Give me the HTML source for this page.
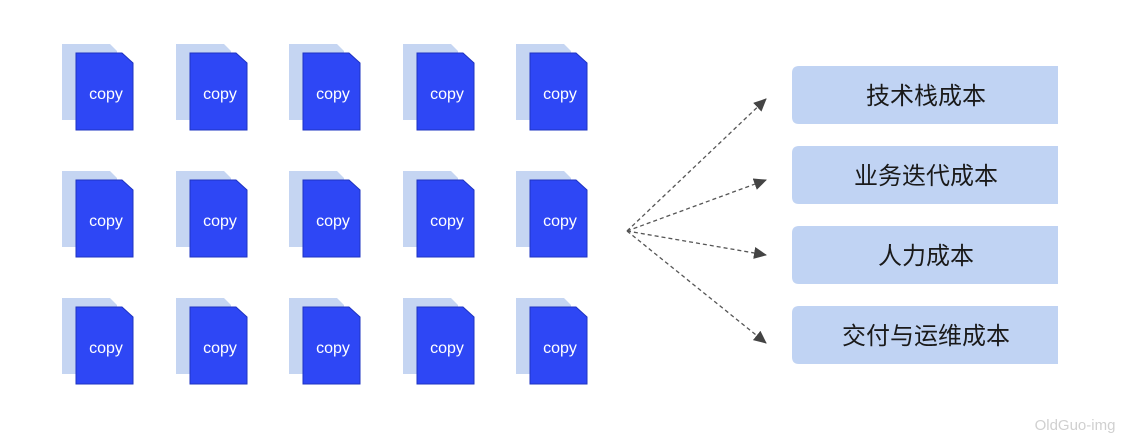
<!DOCTYPE html>
<html><head><meta charset="utf-8"><style>
html,body{margin:0;padding:0;background:#fff;}
svg{display:block;}
.c{font-family:"Liberation Sans",sans-serif;font-size:16px;fill:#fff;text-anchor:middle;}
.t{font-family:"Liberation Sans","Noto Sans CJK SC",sans-serif;font-size:24px;fill:#1a1a1a;text-anchor:middle;}
</style></head><body>
<svg width="1130" height="444" viewBox="0 0 1130 444" xmlns="http://www.w3.org/2000/svg">
<defs>
<g id="doc">
<polygon points="0,0 48,0 55,7 55,76 0,76" fill="#c5d5f2"/>
<polygon points="14,9 60,9 71,19 71,86 14,86" fill="#2e47f5" stroke="#1e33c2" stroke-width="1"/>
</g>
<marker id="ah" markerWidth="13" markerHeight="12" refX="12" refY="6" orient="auto" markerUnits="userSpaceOnUse">
<path d="M0,0 L13,6 L0,12 Z" fill="#444"/>
</marker>
</defs>
<g>
<use href="#doc" x="62" y="44"/><use href="#doc" x="176" y="44"/><use href="#doc" x="289" y="44"/><use href="#doc" x="403" y="44"/><use href="#doc" x="516" y="44"/>
<use href="#doc" x="62" y="171"/><use href="#doc" x="176" y="171"/><use href="#doc" x="289" y="171"/><use href="#doc" x="403" y="171"/><use href="#doc" x="516" y="171"/>
<use href="#doc" x="62" y="298"/><use href="#doc" x="176" y="298"/><use href="#doc" x="289" y="298"/><use href="#doc" x="403" y="298"/><use href="#doc" x="516" y="298"/>
</g>
<g class="c">
<text x="106" y="99">copy</text><text x="220" y="99">copy</text><text x="333" y="99">copy</text><text x="447" y="99">copy</text><text x="560" y="99">copy</text>
<text x="106" y="226">copy</text><text x="220" y="226">copy</text><text x="333" y="226">copy</text><text x="447" y="226">copy</text><text x="560" y="226">copy</text>
<text x="106" y="353">copy</text><text x="220" y="353">copy</text><text x="333" y="353">copy</text><text x="447" y="353">copy</text><text x="560" y="353">copy</text>
</g>
<g stroke="#555" stroke-width="1.3" stroke-dasharray="4,3" fill="none" marker-end="url(#ah)">
<line x1="627" y1="231" x2="766" y2="99"/>
<line x1="627" y1="231" x2="766" y2="180"/>
<line x1="627" y1="231" x2="766" y2="255"/>
<line x1="627" y1="231" x2="766" y2="343"/>
</g>
<g fill="#c0d3f3">
<path d="M799,66 H1058 V124 H799 Q792,124 792,117 V73 Q792,66 799,66 Z"/>
<path d="M799,146 H1058 V204 H799 Q792,204 792,197 V153 Q792,146 799,146 Z"/>
<path d="M799,226 H1058 V284 H799 Q792,284 792,277 V233 Q792,226 799,226 Z"/>
<path d="M799,306 H1058 V364 H799 Q792,364 792,357 V313 Q792,306 799,306 Z"/>
</g>
<text class="t" x="926" y="104">技术栈成本</text>
<text class="t" x="926" y="184">业务迭代成本</text>
<text class="t" x="926" y="264">人力成本</text>
<text class="t" x="926" y="344">交付与运维成本</text>
<text x="1075" y="430" font-family="Liberation Sans,sans-serif" font-size="15" fill="#d0d0d0" text-anchor="middle">OldGuo-img</text>
</svg>
</body></html>
